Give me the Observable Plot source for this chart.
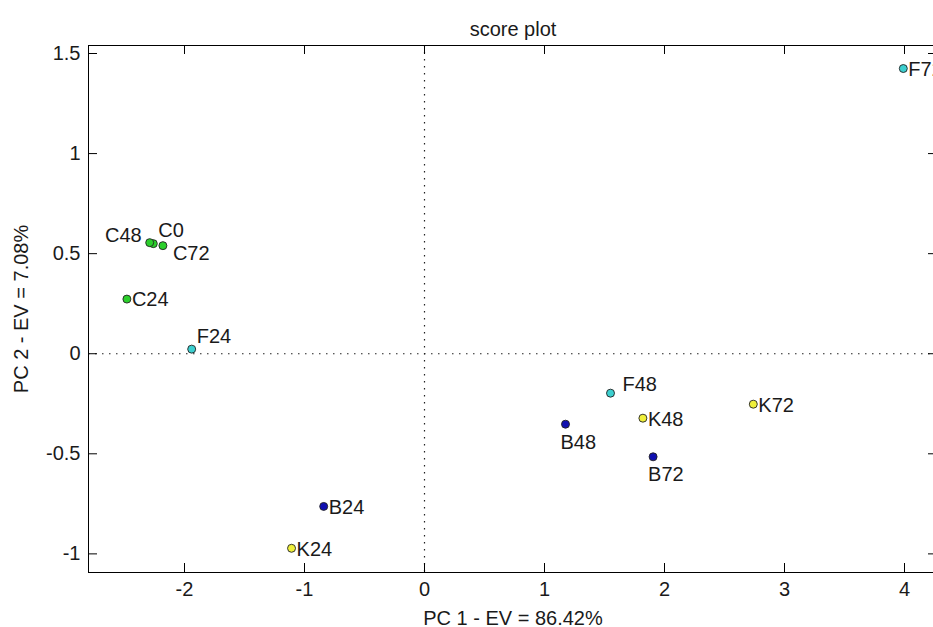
<!DOCTYPE html>
<html><head><meta charset="utf-8">
<script src="https://cdn.jsdelivr.net/npm/d3@7"></script>
<script src="https://cdn.jsdelivr.net/npm/@observablehq/plot@0.6"></script>
<style>
html,body{margin:0;padding:0;background:#fff;overflow:hidden}
#chart svg{overflow:hidden;display:block}
</style>
</head><body><div id="chart"></div>
<script>
const sampleNames = ["C0","C24","C48","C72","F24","F48","F72","B24","B48","B72","K24","K48","K72"];
const pc1 = [-2.26,-2.48,-2.29,-2.18,-1.94,1.55,3.99,-0.84,1.175,1.905,-1.108,1.82,2.74];
const pc2 = [0.55,0.273,0.555,0.54,0.023,-0.197,1.425,-0.763,-0.352,-0.515,-0.972,-0.322,-0.252];
const labelPlacement = ["upRight","right","left","downRight","upRight","upRightWide","right","right","below","below","right","right","right"];
const groupKeys = ["C","F","B","K"];
const groupColors = ["#2bcf2b","#3ccfcf","#1010b0","#efef3a"];
const xTicks = [-2,-1,0,1,2,3,4];
const yTicks = [-1,-0.5,0,0.5,1,1.5];
const title = "score plot";
const xLabel = "PC 1 - EV = 86.42%";
const yLabel = "PC 2 - EV = 7.08%";

const W = 933, H = 627, mL = 88, mT = 45, mB = 55, mR = -4, tick = 9;
const fw = W - mL - mR, fh = H - mT - mB;

const rows = sampleNames.map((name,i)=>({name, pc1: pc1[i], pc2: pc2[i], group: name[0], place: labelPlacement[i]}));
const offsets = {
  right: {dx: 5, dy: 1, textAnchor: "start"},
  left: {dx: -8, dy: -7, textAnchor: "end"},
  upRight: {dx: 5, dy: -13, textAnchor: "start"},
  upRightWide: {dx: 12, dy: -9, textAnchor: "start"},
  downRight: {dx: 10, dy: 8, textAnchor: "start"},
  below: {dx: -5, dy: 18, textAnchor: "start"}
};
const fontFam = "'Liberation Sans', Arial, sans-serif";
const labelMarks = Object.keys(offsets).map(k =>
  Plot.text(rows.filter(d => d.place === k), {x: "pc1", y: "pc2", text: "name", ...offsets[k], fontSize: 20, fill: "#1a1a1a"})
);

const plot = Plot.plot({
  width: W, height: H,
  marginLeft: mL, marginTop: mT, marginBottom: mB, marginRight: mR,
  style: {fontFamily: fontFam, fontSize: "20px", color: "#1a1a1a", background: "#fff"},
  x: {domain: [-2.8, 4.275]},
  y: {domain: [-1.093, 1.54]},
  color: {domain: groupKeys, range: groupColors},
  marks: [
    Plot.ruleX([0], {stroke: "#222", strokeDasharray: "1.5,5.5", strokeWidth: 1.2}),
    Plot.ruleY([0], {stroke: "#222", strokeDasharray: "1.5,5.5", strokeWidth: 1.2}),
    Plot.frame({stroke: "#000"}),
    Plot.tickX(xTicks, {x: d => d, insetTop: fh - tick, stroke: "#000"}),
    Plot.tickX(xTicks, {x: d => d, insetBottom: fh - tick, stroke: "#000"}),
    Plot.tickY(yTicks, {y: d => d, insetRight: fw - tick, stroke: "#000"}),
    Plot.tickY(yTicks, {y: d => d, insetLeft: fw - tick, stroke: "#000"}),
    Plot.axisX(xTicks, {anchor: "bottom", tickSize: 0, tickPadding: 9, tickFormat: d => String(d), label: xLabel, labelAnchor: "center", labelArrow: "none", labelOffset: 52}),
    Plot.axisY(yTicks, {anchor: "left", tickSize: 0, tickPadding: 8, tickFormat: d => String(d), label: yLabel, labelAnchor: "center", labelArrow: "none", labelOffset: 75}),
    Plot.dot(rows, {x: "pc1", y: "pc2", fill: "group", stroke: "#222", strokeWidth: 0.9, r: 4}),
    ...labelMarks,
    Plot.text([title], {frameAnchor: "top", dy: -24, fontSize: 20, fill: "#1a1a1a"})
  ]
});
document.getElementById("chart").appendChild(plot);
</script>
</body></html>
